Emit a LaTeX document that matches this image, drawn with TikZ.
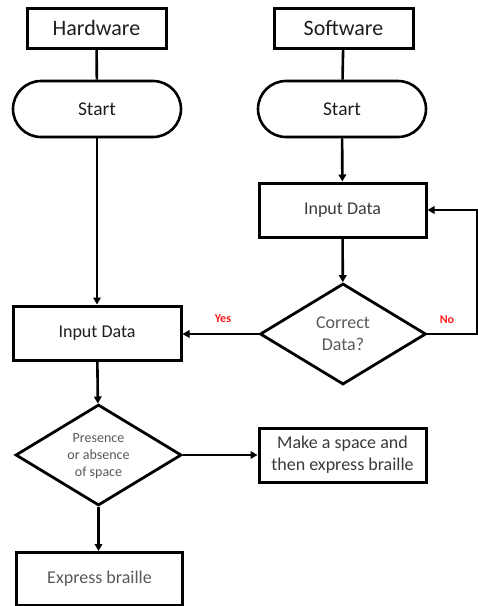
\documentclass[tikz,border=0pt]{standalone}
\usepackage{fontspec}
\setmainfont{Carlito}
\usetikzlibrary{shapes.geometric,arrows.meta}
\definecolor{txtA}{HTML}{1E1E1E}
\definecolor{txtB}{HTML}{3A3A3A}
\definecolor{txtC}{HTML}{595959}
\definecolor{lblred}{HTML}{FF1A1A}
\tikzset{
  box/.style={draw=black,line width=3pt,rectangle,inner sep=0pt,align=center},
  stadium/.style={draw=black,line width=2.6pt,rectangle,rounded corners=28pt,inner sep=0pt,minimum width=168pt,minimum height=56pt,font=\fontsize{19.5}{22}\selectfont,text=txtA},
  dia/.style={draw=black,line width=2.8pt,diamond,inner sep=0pt,minimum width=166pt,minimum height=101pt},
  conn/.style={line width=2.6pt,draw=black},
  arr/.style={conn,-{Triangle[length=7pt,width=7.5pt]}},
  lbl/.style={font=\fontsize{12}{14}\selectfont\bfseries,text=lblred,inner sep=0pt}
}
\begin{document}
\begin{tikzpicture}[x=1pt,y=-1pt]
\useasboundingbox (0,0) rectangle (478,606);
% Hardware column
\node[box,minimum width=139pt,minimum height=40pt,font=\fontsize{22}{26}\selectfont,text=txtA] (hw) at (96.5,28) {Hardware};
\node[stadium] (hstart) at (97,109) {Start};
\node[box,minimum width=168pt,minimum height=54pt,font=\fontsize{18}{22}\selectfont,text=txtA] (hin) at (97,333) {Input Data};
\node[dia] (pres) at (98.5,455) {};
\node[inner sep=0pt,align=center,font=\fontsize{14}{17}\selectfont,text=txtC] (prestxt) at (98.5,456) {Presence\\or absence\\of space};
\node[box,minimum width=166pt,minimum height=53pt,font=\fontsize{18}{22}\selectfont,text=txtC] (expr) at (99.5,579) {Express braille};
% Software column
\node[box,minimum width=139pt,minimum height=40pt,font=\fontsize{22}{26}\selectfont,text=txtA] (sw) at (343.5,28) {Software};
\node[stadium] (sstart) at (342,109) {Start};
\node[box,minimum width=167pt,minimum height=54pt,font=\fontsize{18}{22}\selectfont,text=txtB] (sin) at (342.5,210) {Input Data};
\node[dia] (corr) at (343,334) {};
\node[inner sep=0pt,align=center,font=\fontsize{18}{22}\selectfont,text=txtC] (corrtxt) at (343,334) {Correct\\Data?};
\node[box,minimum width=167pt,minimum height=54pt,font=\fontsize{18}{22}\selectfont,text=txtB] (space) at (342.5,455) {Make a space and\\then express braille};
\coordinate (nA) at (477,334);
\coordinate (nB) at (477,210);
% connectors
\draw[conn] (hw) -- (hstart);
\draw[conn] (sw) -- (sstart);
\draw[arr] (hstart) -- (hin);
\draw[arr] (sstart) -- (sin);
\draw[arr] (sin) -- (corr);
\draw[arr] (corr.west) -- (corr.west -| hin.east);
\draw[arr] (corr.east) -- (nA) -- (nB) -- (sin.east);
\draw[arr] (hin) -- (pres);
\draw[arr] (pres.east) -- (pres.east -| space.west);
\draw[arr] (pres.south) -- (pres.south |- expr.north);
% labels
\node[lbl] (yes) at (223,319) {Yes};
\node[lbl] (no) at (447,320) {No};
\end{tikzpicture}
\end{document}
